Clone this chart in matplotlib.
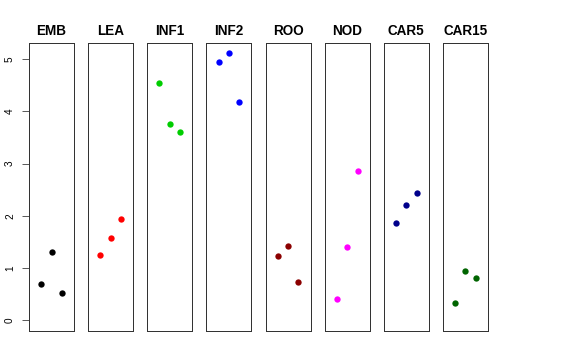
#!/usr/bin/env python3
"""Strip of small panels: three samples per tissue, one value each."""
import matplotlib
matplotlib.use("Agg")
import matplotlib.pyplot as plt

TISSUES = ["EMB", "LEA", "INF1", "INF2", "ROO", "NOD", "CAR5", "CAR15"]
COLORS = ["#000000", "#FF0000", "#00CD00", "#0000FF",
          "#8B0000", "#FF00FF", "#00008B", "#006400"]

EMB = [0.70, 1.30, 0.53]
LEA = [1.25, 1.57, 1.94]
INF1 = [4.55, 3.76, 3.61]
INF2 = [4.95, 5.11, 4.18]
ROO = [1.23, 1.42, 0.74]
NOD = [0.40, 1.41, 2.85]
CAR5 = [1.86, 2.20, 2.43]
CAR15 = [0.33, 0.94, 0.81]
SERIES = [EMB, LEA, INF1, INF2, ROO, NOD, CAR5, CAR15]

REPS = [1, 2, 3]
Y_TICKS = [0, 1, 2, 3, 4, 5]

W, H = 576, 360


def pad(lo, hi, frac=0.04):
    d = (hi - lo) * frac
    return lo - d, hi + d


def main():
    plt.rcParams["font.family"] = ["Liberation Sans", "DejaVu Sans"]
    fig = plt.figure(figsize=(W / 72, H / 72), dpi=72)

    left0, step, width = 29.0, 59.14, 45.0
    top, bottom = 43.3, 331.0
    for k, (name, vals, col) in enumerate(zip(TISSUES, SERIES, COLORS)):
        x0 = left0 + k * step
        ax = fig.add_axes([x0 / W, (H - bottom) / H, width / W, (bottom - top) / H])
        ax.scatter(REPS, vals, s=40, color=col, linewidths=0, zorder=3)
        ax.set_xlim(*pad(0, 4))
        ax.set_ylim(*pad(0, 5.1))
        ax.set_xticks([])
        for sp in ax.spines.values():
            sp.set_linewidth(1.0)
            sp.set_color("#333333")
        ax.set_title(name, fontsize=13.5, fontweight="bold", pad=8)
        if k == 0:
            ax.set_yticks(Y_TICKS)
            ax.set_yticklabels([str(v) for v in Y_TICKS], rotation=90, va="center")
            ax.tick_params(axis="y", length=7, width=0.8, pad=7, labelsize=10,
                           color="#333333")
        else:
            ax.set_yticks([])

    fig.savefig("out.png", dpi=72)
    plt.close(fig)


if __name__ == "__main__":
    main()
